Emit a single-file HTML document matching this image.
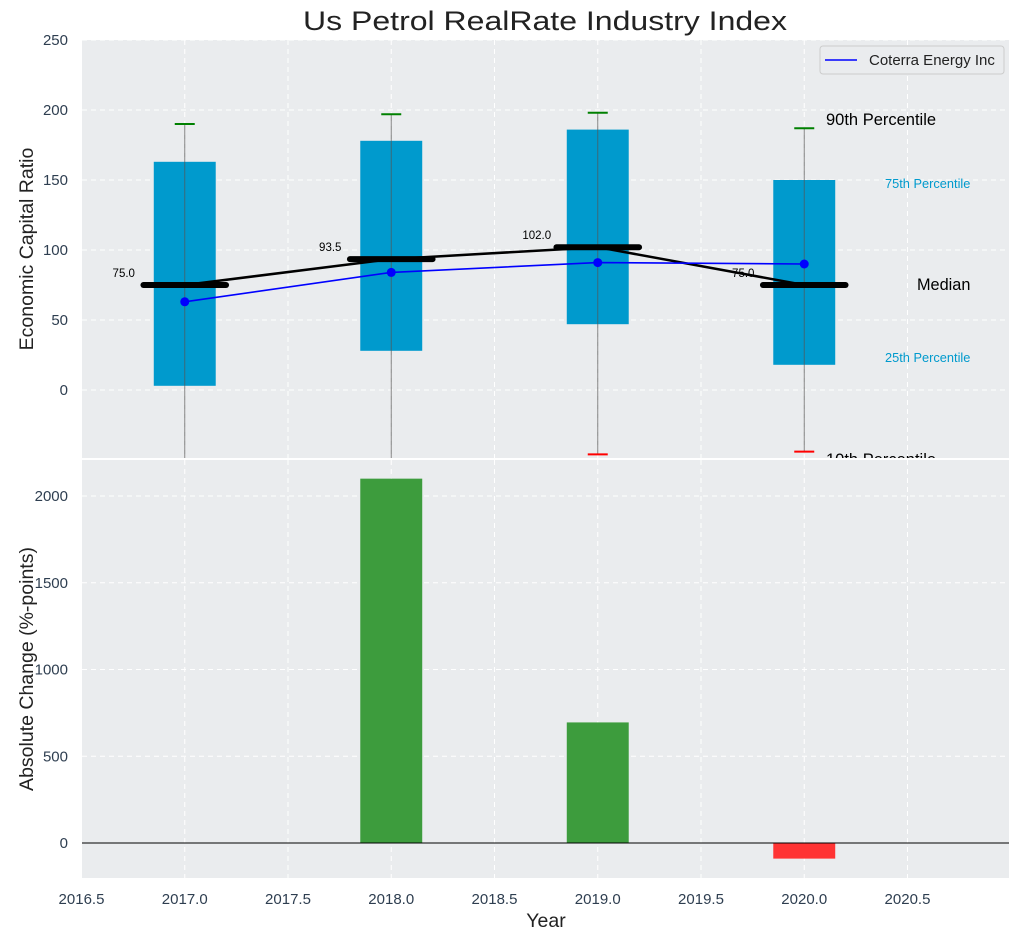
<!DOCTYPE html>
<html><head><meta charset="utf-8"><style>
body{margin:0;background:#fff;}
svg text{font-family:"Liberation Sans","DejaVu Sans",sans-serif;}
</style></head><body>
<svg id="chart" width="1020" height="940" xmlns="http://www.w3.org/2000/svg">
<defs>
<clipPath id="ct"><rect x="82" y="40" width="927" height="418"/></clipPath>
<clipPath id="cb"><rect x="82" y="460" width="927" height="418"/></clipPath>
</defs>
<g id="root"></g>
</svg>
<script>
const years=[2017,2018,2019,2020];
const p10=[-60,-60,-46,-44];
const p25=[3,28,47,18];
const median=[75,93.5,102,75];
const p75=[163,178,186,150];
const p90=[190,197,198,187];
const coterra=[63,84,91,90];
const changes=[0,2100,695,-90];
const xTicks=[2016.5,2017,2017.5,2018,2018.5,2019,2019.5,2020,2020.5];
const yTopTicks=[0,50,100,150,200,250];
const yBotTicks=[0,500,1000,1500,2000];

const NS="http://www.w3.org/2000/svg";
const rootG=document.getElementById('root');
const X=v=>81.5+(v-2016.5)*206.5;
const YT=v=>390-v*1.4;
const YB=v=>843-v*0.1735;
function el(t,a,p){const e=document.createElementNS(NS,t);for(const k in a)e.setAttribute(k,a[k]);(p||rootG).appendChild(e);return e;}
function txt(s,a,p){const e=el('text',a,p);e.textContent=s;return e;}

let bg=el('rect',{x:82,y:40,width:927,height:418,fill:'#eaecee'});


bg=el('rect',{x:82,y:460,width:927,height:418,fill:'#eaecee'});



const grid=el('g',{stroke:'#fff','stroke-dasharray':'5,4','stroke-width':1});


xTicks.forEach(t=>{el('line',{x1:X(t),x2:X(t),y1:40,y2:458},grid);el('line',{x1:X(t),x2:X(t),y1:460,y2:878},grid);});
yTopTicks.forEach(t=>el('line',{x1:82,x2:1009,y1:YT(t),y2:YT(t)},grid));
yBotTicks.forEach(t=>el('line',{x1:82,x2:1009,y1:YB(t),y2:YB(t)},grid));

xTicks.forEach(t=>{const e=txt(t.toFixed(1),{x:X(t),y:904,'text-anchor':'middle','font-size':15,fill:'#2e3e50'});
});
yTopTicks.forEach(t=>{const e=txt(String(t),{x:68,y:YT(t)+5,'text-anchor':'end','font-size':15,fill:'#2e3e50'});
});
yBotTicks.forEach(t=>{const e=txt(String(t),{x:68,y:YB(t)+5,'text-anchor':'end','font-size':15,fill:'#2e3e50'});
});

const topG=el('g',{'clip-path':'url(#ct)'});


years.forEach((y,i)=>{
  const b=el('rect',{x:X(y-0.15),y:YT(p75[i]),width:0.3*206.5,height:YT(p25[i])-YT(p75[i]),fill:'#009acd'},topG);
  
  const w=el('line',{x1:X(y),x2:X(y),y1:YT(p90[i]),y2:YT(p10[i]),stroke:'#555','stroke-width':1,opacity:0.7},topG);
  
  const c1=el('line',{x1:X(y)-10,x2:X(y)+10,y1:YT(p90[i]),y2:YT(p90[i]),stroke:'green','stroke-width':2},topG);
  
  const c2=el('line',{x1:X(y)-10,x2:X(y)+10,y1:YT(p10[i]),y2:YT(p10[i]),stroke:'red','stroke-width':2},topG);
  
});
let mp=years.map((y,i)=>X(y)+','+YT(median[i])).join(' ');
let ml=el('polyline',{points:mp,fill:'none',stroke:'#000','stroke-width':2.5},topG);

years.forEach((y,i)=>{
  const m=el('line',{x1:X(y-0.2),x2:X(y+0.2),y1:YT(median[i]),y2:YT(median[i]),stroke:'#000','stroke-width':6,'stroke-linecap':'round'},topG);
  
  const t=txt(median[i].toFixed(1),{x:X(y)-61,y:YT(median[i])-8,'text-anchor':'middle','font-size':11.5,fill:'#000'},topG);
  
});
let cp=years.map((y,i)=>X(y)+','+YT(coterra[i])).join(' ');
let cl=el('polyline',{points:cp,fill:'none',stroke:'blue','stroke-width':1.6},topG);

years.forEach((y,i)=>{const d=el('circle',{cx:X(y),cy:YT(coterra[i]),r:4.5,fill:'blue'},topG);
});
const ann=[['90th Percentile',826,125,16.5,'#000'],['75th Percentile',885,188,12.8,'#009acd'],['Median',917,290,16.3,'#000'],['25th Percentile',885,362,12.8,'#009acd'],['10th Percentile',826,465,16.5,'#000']];
ann.forEach(a=>{const t=txt(a[0],{x:a[1],y:a[2],'font-size':a[3],fill:a[4]},topG);
});
const lg=el('g',{});

el('rect',{x:820,y:46,width:184,height:28,rx:3,fill:'#eaecee',stroke:'#ccc'},lg);
el('line',{x1:825,x2:857,y1:60,y2:60,stroke:'blue','stroke-width':1.6},lg);
let lt=txt('Coterra Energy Inc',{x:869,y:65,'font-size':15,fill:'#222'},lg);


const botG=el('g',{'clip-path':'url(#cb)'});

years.forEach((y,i)=>{
  const v=changes[i];
  const r=el('rect',{x:X(y-0.15),y:Math.min(YB(v),YB(0)),width:0.3*206.5,height:Math.abs(YB(v)-YB(0)),fill:v>=0?'#3d9c3d':'#ff3333'},botG);
  
});
let zl=el('line',{x1:82,x2:1009,y1:YB(0),y2:YB(0),stroke:'#000','stroke-width':1},botG);


let t1=txt('Us Petrol RealRate Industry Index',{x:545,y:30,'text-anchor':'middle','font-size':27,fill:'#222',textLength:484,lengthAdjust:'spacingAndGlyphs'});

let t2=txt('Year',{x:546,y:927,'text-anchor':'middle','font-size':19.5,fill:'#222'});

let t3=txt('Economic Capital Ratio',{x:33,y:249,'text-anchor':'middle','font-size':19.5,fill:'#222',transform:'rotate(-90 33 249)'});

let t4=txt('Absolute Change (%-points)',{x:33,y:669,'text-anchor':'middle','font-size':19.5,fill:'#222',transform:'rotate(-90 33 669)'});

</script>
</body></html>
